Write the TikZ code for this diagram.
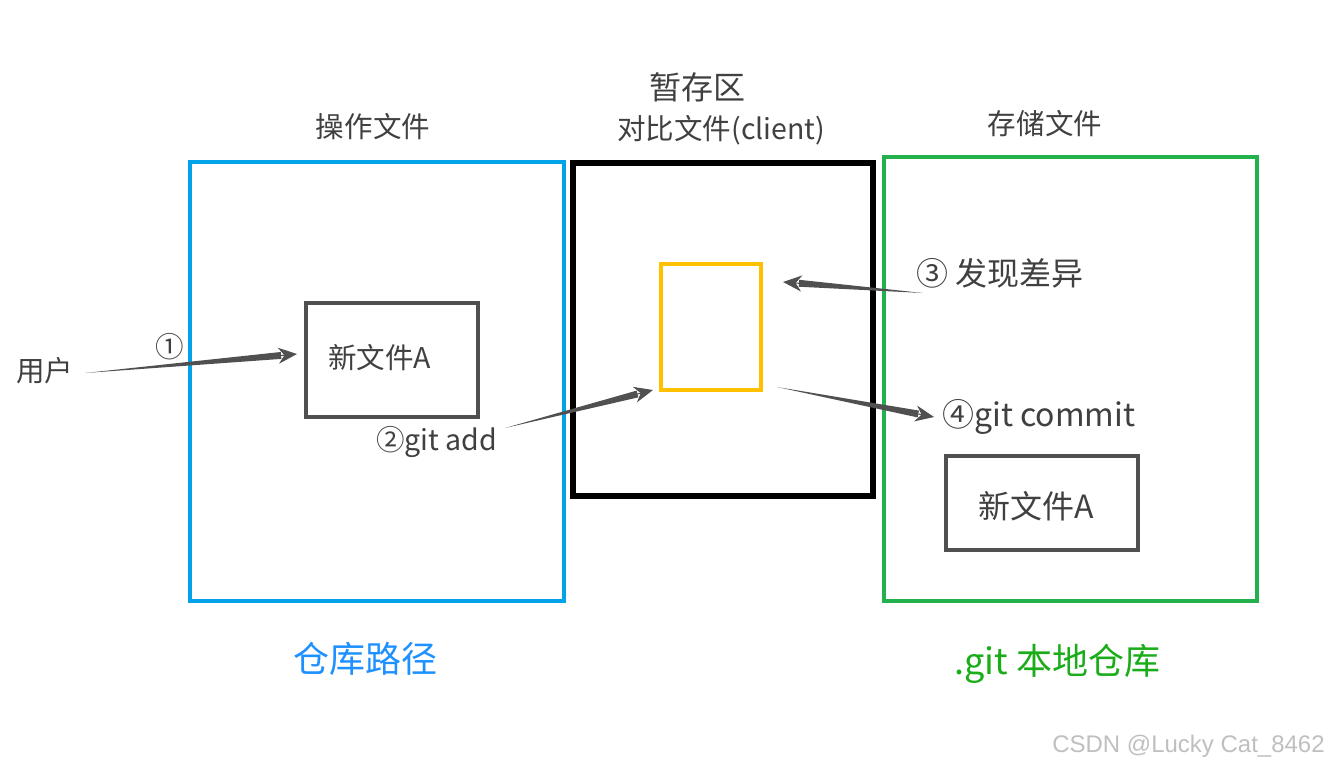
\documentclass[tikz,border=0pt]{standalone}
\usepackage{fontspec}
\setmainfont{Noto Sans CJK SC}
\newfontfamily\wmfont{Liberation Sans}
\usetikzlibrary{arrows.meta,calc}
\definecolor{cblue}{HTML}{00A2E8}
\definecolor{cgreen}{HTML}{22B14C}
\definecolor{cyellow}{HTML}{FFC000}
\definecolor{cgray}{HTML}{505050}
\definecolor{ctext}{HTML}{404040}
\definecolor{tblue}{HTML}{1E90FF}
\definecolor{tgreen}{HTML}{1AAD19}
\tikzset{
  filebox/.style={draw=cgray, line width=2.4pt},
  lbl/.style={text=ctext, inner sep=0pt, font=\fontsize{21.4pt}{24pt}\selectfont},
  biglbl/.style={text=ctext, inner sep=0pt, font=\fontsize{24pt}{27pt}\selectfont},
  arrbody/.style={fill=cgray},
  arrhead/.style={draw=cgray, line width=0.8pt, -{Stealth[length=14pt,width=12pt]}},
}
\begin{document}
\begin{tikzpicture}[x=0.75pt,y=-0.75pt]
\useasboundingbox (0,0) rectangle (1329,769);
% frames
\draw[cblue, line width=3.2pt] (190,162) rectangle (564,601);
\draw[black, line width=3.8pt] (573,163) rectangle (873,496);
\draw[cgreen, line width=3.4pt] (884,157) rectangle (1257,601);
\draw[cyellow, line width=2.4pt] (661,264) rectangle (761,390);
% file boxes
\draw[filebox] (306,303) rectangle (478,417);
\node[lbl, anchor=west] (f1) at (328,358) {新文件A};
\draw[filebox] (946,456) rectangle (1138,550);
\node[biglbl, anchor=west] (f2) at (978,506) {新文件A};
% headings
\node[lbl] (h1) at (373,127) {操作文件};
\node[biglbl] (h2) at (697,87) {暂存区};
\node[lbl, anchor=west] (h3) at (617,130) {对比文件(client)};
\node[lbl] (h4) at (1045,124) {存储文件};
% labels
\node[lbl, anchor=west] (user) at (16,371) {用户};
\node[lbl] (c1) at (170,347) {①};
\node[lbl, anchor=west] (c2) at (376,442) {②git add};
\node[biglbl, anchor=west] (c3) at (916,273) {③ 发现差异};
\node[biglbl, anchor=west] (c4) at (942,417) {④git commit};
\node[text=tblue, inner sep=0pt, font=\fontsize{27pt}{30pt}\selectfont] (b1) at (365,659) {仓库路径};
\node[text=tgreen, inner sep=0pt, font=\fontsize{27pt}{30pt}\selectfont, anchor=west] (b2) at (954,664) {.git 本地仓库};
\node[text=black!25, inner sep=0pt, font=\wmfont\fontsize{18pt}{21pt}\selectfont, anchor=east] (wm) at (1325,746) {CSDN @Lucky Cat\_8462};
% arrows (tapered)
\coordinate (a1s) at (85,373);  \coordinate (a1e) at (297,354);
\coordinate (a2s) at (505,428); \coordinate (a2e) at (653,390);
\coordinate (a3s) at (923,293); \coordinate (a3e) at (783,282);
\coordinate (a4s) at (777,387); \coordinate (a4e) at (934,417);
\foreach \s/\e in {a1s/a1e,a2s/a2e,a3s/a3e,a4s/a4e}{
  \coordinate (m) at ($(\e)!12pt!(\s)$);
  \fill[arrbody] (\s) -- ($(m)!2.6pt!90:(\e)$) -- ($(m)!2.6pt!-90:(\e)$) -- cycle;
  \draw[arrhead] (m) -- (\e);
}
\end{tikzpicture}
\end{document}
